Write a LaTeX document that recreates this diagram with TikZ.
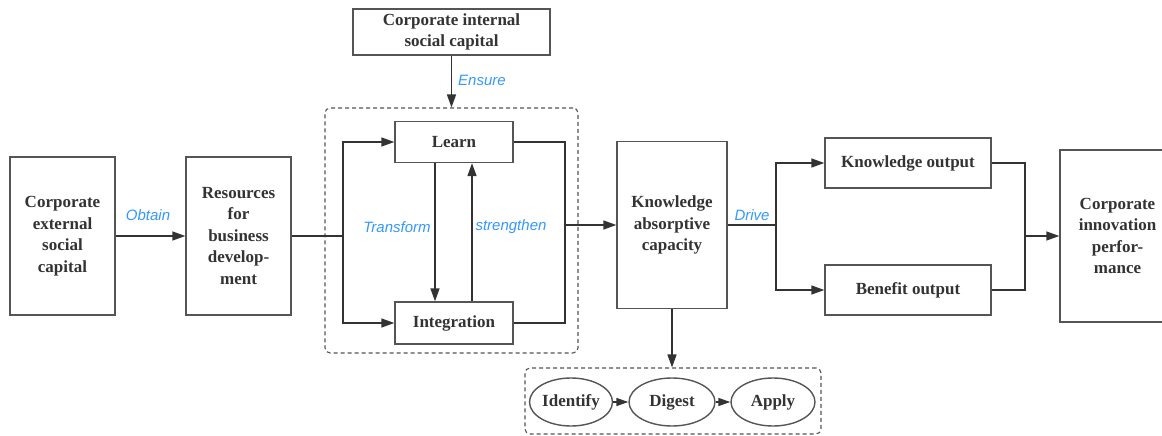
\documentclass[tikz,border=0pt]{standalone}
\usepackage{fontspec}
\setmainfont{Liberation Serif}
\newfontfamily\labfont{Liberation Sans}
\usetikzlibrary{arrows.meta,shapes.geometric,calc}
\definecolor{txtc}{HTML}{333333}
\definecolor{bluec}{HTML}{3399FF}
\definecolor{bordc}{HTML}{555555}
\begin{document}
\begin{tikzpicture}[x=1pt,y=-1pt,
 box/.style={draw=bordc,line width=1.4pt,font=\bfseries\fontsize{17}{21.5}\selectfont,text=txtc,align=center,inner sep=0pt},
 ell/.style={box,ellipse},
 grp/.style={draw=bordc,line width=1.1pt,dash pattern=on 4pt off 3pt,rounded corners=5pt,inner sep=0pt},
 lbl/.style={text=bluec,font=\labfont\itshape\fontsize{15}{17}\selectfont},
 plain/.style={draw=txtc,line width=1.5pt},
 con/.style={plain,-{Triangle[length=13pt,width=9pt]}},
 scon/.style={plain,-{Triangle[length=12pt,width=8pt]}}]
\fill[white] (0,0) rectangle (1162,436);
\useasboundingbox (0,0) rectangle (1162,436);
% groups
\node[grp,minimum width=253,minimum height=245] (g1) at (451.5,230.5) {};
\node[grp,minimum width=296,minimum height=66] (g2) at (673,401) {};
% boxes
\node[box,minimum width=105,minimum height=158] (ext) at (62.5,236) {Corporate\\external\\social\\capital};
\node[box,minimum width=105,minimum height=158] (res) at (238.5,236) {Resources\\for\\business\\develop-\\ment};
\node[box,minimum width=197,minimum height=46] (int) at (451.5,32) {Corporate internal\\social capital};
\node[box,minimum width=118,minimum height=41] (learn) at (454,142) {Learn};
\node[box,minimum width=118,minimum height=42] (integ) at (454,323) {Integration};
\node[box,minimum width=110,minimum height=167] (kac) at (672,225) {Knowledge\\absorptive\\capacity};
\node[box,minimum width=166,minimum height=50] (kout) at (908,163) {Knowledge output};
\node[box,minimum width=166,minimum height=50] (bout) at (908,290) {Benefit output};
\node[box,minimum width=115,minimum height=172,text width=100pt] (perf) at (1117.5,236) {Corporate\\innovation\\perfor-\\mance};
\node[ell,minimum width=83,minimum height=48] (id) at (571,402) {Identify};
\node[ell,minimum width=86,minimum height=48] (dg) at (672,402) {Digest};
\node[ell,minimum width=84,minimum height=48] (ap) at (773,402) {Apply};
% connectors
\draw[con] (ext.east) -- (res.west);
\coordinate (b1) at (343,236);
\draw[plain] (res.east) -- (b1);
\draw[con] (b1) |- (learn.west);
\draw[con] (b1) |- (integ.west);
\draw[con] (int.south) -- (int.south |- g1.north);
\draw[con] ([xshift=-19pt]learn.south) -- ([xshift=-19pt]integ.north);
\draw[con] ([xshift=18pt]integ.north) -- ([xshift=18pt]learn.south);
\coordinate (r1) at (565,0);
\draw[plain] (learn.east) -| (r1 |- integ.east) -- (integ.east);
\draw[con] (r1 |- kac.west) -- (kac.west);
\coordinate (b3) at (776,0);
\draw[plain] (kac.east) -- (b3 |- kac.east);
\draw[con] (b3 |- kac.east) |- (kout.west);
\draw[con] (b3 |- kac.east) |- (bout.west);
\coordinate (r2) at (1025,0);
\draw[plain] (kout.east) -| (r2 |- bout.east) -- (bout.east);
\draw[con] (r2 |- perf.west) -- (perf.west);
\draw[con] (kac.south) -- (kac.south |- g2.north);
\draw[scon] (id) -- (dg);
\draw[scon] (dg) -- (ap);
% labels
\node[lbl] (lobtain) at (148,215) {Obtain};
\node[lbl] (lensure) at (482,80) {Ensure};
\node[lbl] (ltrans) at (397,227) {Transform};
\node[lbl] (lstr) at (511,227) {strengthen};
\node[lbl] (ldrive) at (752,215) {Drive};
\end{tikzpicture}
\end{document}
